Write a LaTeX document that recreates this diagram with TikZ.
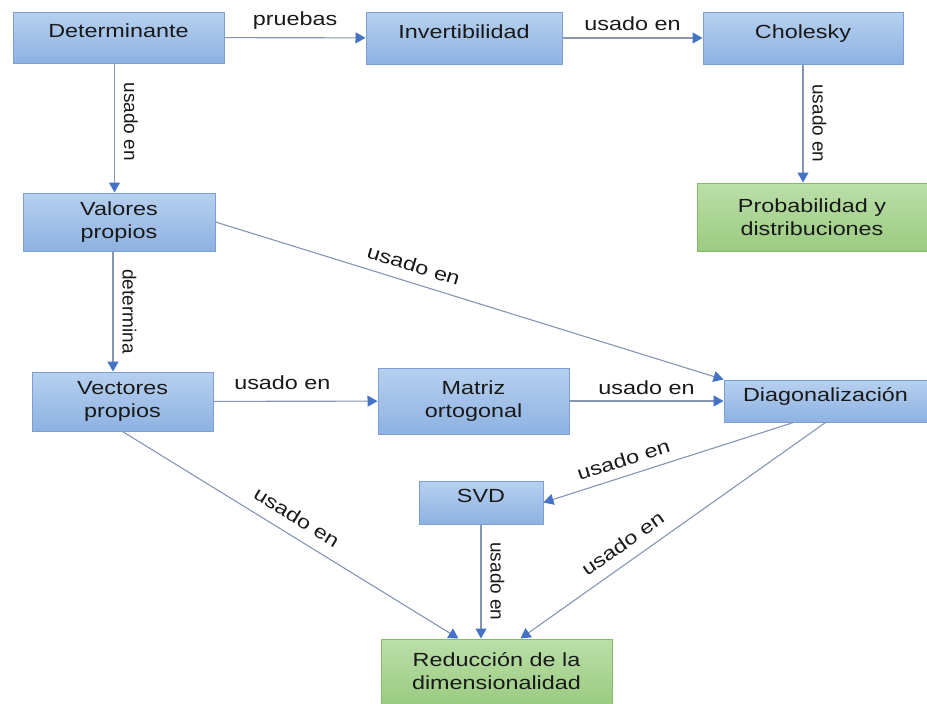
\documentclass[tikz,border=0pt]{standalone}
\usepackage{fontspec}
\setmainfont{Liberation Sans}[FakeStretch=1.23]
\newfontfamily\uprightlabel{Liberation Sans}
\usetikzlibrary{arrows.meta}

\definecolor{boxtop}{HTML}{B7D0EF}
\definecolor{boxbot}{HTML}{8DB2E2}
\definecolor{boxline}{HTML}{7C9ED2}
\definecolor{greentop}{HTML}{BADFA8}
\definecolor{greenbot}{HTML}{9BCB81}
\definecolor{greenline}{HTML}{86B86B}
\definecolor{linkgray}{HTML}{8595B3}
\definecolor{tipblue}{HTML}{4472C4}

\begin{document}
\begin{tikzpicture}[
    x=1pt, y=-1pt,
    font=\fontsize{19}{23}\selectfont,
    box/.style={rectangle, draw=boxline, line width=1pt, top color=boxtop, bottom color=boxbot, align=center, inner sep=0pt, text=black!90},
    greenbox/.style={box, draw=greenline, top color=greentop, bottom color=greenbot},
    oneline/.style={text height=8pt, text depth=8pt},
    arrow/.style={draw=linkgray, line width=1.1pt, -{Triangle[length=10pt, width=11pt, color=tipblue]}},
    lbl/.style={inner sep=2pt, text=black!90},
    vlbl/.style={lbl, inner sep=9pt, rotate=-90, anchor=south, font=\fontsize{19}{23}\selectfont\uprightlabel}
]
    \useasboundingbox (0,0) rectangle (927,704);

    % Top row
    \node[box, oneline, minimum width=211, minimum height=51] (det) at (118.5,37.5) {Determinante};
    \node[box, oneline, minimum width=196, minimum height=52] (inv) at (464,38) {Invertibilidad};
    \node[box, oneline, minimum width=200, minimum height=52] (chol) at (803,38) {Cholesky};
    \node[greenbox, minimum width=230, minimum height=68] (prob) at (812,217) {Probabilidad y\\distribuciones};

    % Eigen values / vectors
    \node[box, minimum width=192, minimum height=58] (val) at (119,222) {Valores\\propios};
    \node[box, minimum width=181, minimum height=59] (vec) at (122.5,401.5) {Vectores\\propios};
    \node[box, minimum width=191, minimum height=66] (mat) at (473.5,401) {Matriz\\ortogonal};
    \node[box, oneline, minimum width=203, minimum height=42] (diag) at (825.5,401) {Diagonalización};

    % Bottom
    \node[box, oneline, minimum width=124, minimum height=43] (svd) at (481,502.5) {SVD};
    \node[greenbox, minimum width=231, minimum height=65] (red) at (496.5,671.5) {Reducción de la\\dimensionalidad};

    % Arrows
    \draw[arrow] (det) -- (inv) node[lbl, midway, above=6pt] {pruebas};
    \draw[arrow] (inv) -- (chol) node[lbl, midway, above=5pt] {usado en};
    \draw[arrow] (chol.south) -- (chol.south |- prob.north) node[vlbl, midway] {usado en};

    \draw[arrow] ([xshift=-4]det.south) -- ([xshift=-4]det.south |- val.north) node[vlbl, pos=0.45] {usado en};
    \draw[arrow] ([xshift=-6]val.south) -- ([xshift=-6]val.south |- vec.north) node[vlbl, midway] {determina};
    \draw[arrow] (val.east) -- (diag.north west) node[lbl, pos=0.38, sloped, above=8pt] {usado en};

    \draw[arrow] (vec) -- (mat) node[lbl, pos=0.42, above=9pt] {usado en};
    \draw[arrow] (mat) -- (diag) node[lbl, midway, above=4pt] {usado en};

    \draw[arrow] ([xshift=-32]diag.south) -- (svd.east) node[lbl, pos=0.66, sloped, above=7pt] {usado en};
    \draw[arrow] (diag.south) -- ([xshift=24]red.north) node[lbl, pos=0.63, sloped, above=9pt] {usado en};
    \draw[arrow] (svd.south) -- (svd.south |- red.north) node[vlbl, midway] {usado en};
    \draw[arrow] (vec.south) -- ([xshift=-38]red.north) node[lbl, pos=0.49, sloped, above=9pt] {usado en};
\end{tikzpicture}
\end{document}
